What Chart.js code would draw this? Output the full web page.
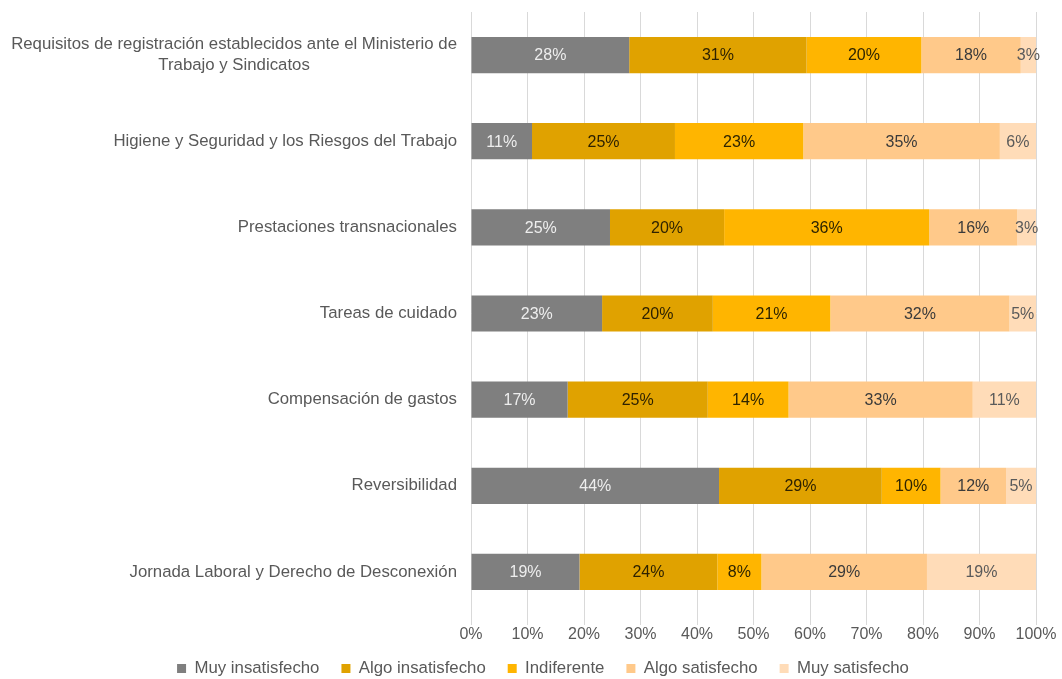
<!DOCTYPE html>
<html>
<head>
<meta charset="utf-8">
<script src="https://cdn.jsdelivr.net/npm/chart.js@4/dist/chart.umd.min.js"></script>
<style>
body{margin:0;background:#fff;}
#wrap{width:1062px;height:679px;}
</style>
</head>
<body>
<div id="wrap"><canvas id="satChart" width="1062" height="679"></canvas></div>
<script>

/* Data */

const categories = [
["Requisitos de registración establecidos ante el Ministerio de", "Trabajo y Sindicatos"],
"Higiene y Seguridad y los Riesgos del Trabajo",
"Prestaciones transnacionales",
"Tareas de cuidado",
"Compensación de gastos",
"Reversibilidad",
"Jornada Laboral y Derecho de Desconexión"
];

const seriesNames = ["Muy insatisfecho", "Algo insatisfecho", "Indiferente", "Algo satisfecho", "Muy satisfecho"];

const muyInsatisfecho  = [28.0, 10.8, 24.6, 23.2, 17.1, 43.9, 19.2];
const algoInsatisfecho = [31.4, 25.3, 20.2, 19.6, 24.8, 28.8, 24.4];
const indiferente      = [20.3, 22.7, 36.3, 20.8, 14.3, 10.4, 7.8];
const algoSatisfecho   = [17.6, 34.8, 15.6, 31.7, 32.6, 11.6, 29.3];
const muySatisfecho    = [2.7, 6.4, 3.3, 4.7, 11.2, 5.3, 19.3];

const xTicks = [0, 10, 20, 30, 40, 50, 60, 70, 80, 90, 100];

const colors = ["#7f7f7f", "#e0a200", "#ffb500", "#ffc98a", "#ffdcb8"];
const labelColors = ["#eeeeee", "#2e2200", "#2e2400", "#3a3a3a", "#5a5a5a"];

const FONT = "'Liberation Sans', Arial, sans-serif";


/* Bar value labels */

const valueLabels = {
id: "valueLabels",
afterDatasetsDraw(chart){
const c = chart.ctx;
c.save();
c.font = "16px " + FONT;
c.textAlign = "center";
c.textBaseline = "middle";
chart.data.datasets.forEach((ds, di) => {
const meta = chart.getDatasetMeta(di);
meta.data.forEach((bar, i) => {
c.fillStyle = labelColors[di];
c.fillText(Math.round(ds.data[i]) + "%", (bar.x + bar.base) / 2, bar.y + 1);
});
});
c.restore();
}
};


/* Category labels (first one is two centered lines) */

const categoryLabels = {
id: "categoryLabels",
afterDraw(chart){
const c = chart.ctx;
const y = chart.scales.y;
const right = chart.chartArea.left - 14;
c.save();
c.font = "16.8px " + FONT;
c.fillStyle = "#595959";
c.textBaseline = "middle";
categories.forEach((cat, i) => {
const py = y.getPixelForTick(i);
if(Array.isArray(cat)){
const w = Math.max(...cat.map(t => c.measureText(t).width));
const mid = right - w / 2;
c.textAlign = "center";
cat.forEach((t, k) => {
c.fillText(t, mid, py + (k - (cat.length - 1) / 2) * 21);
});
}
else{
c.textAlign = "right";
c.fillText(cat, right, py);
}
});
c.restore();
}
};


/* let the x axis labels sit under the legend's top padding */

const axisOverlap = {
id: "axisOverlap",
afterLayout(chart){
chart.scales.x.bottom += 6;
chart.scales.x.height += 6;
}
};


/* Chart Setup */

const ctx = document.getElementById("satChart").getContext("2d");

const seriesData = [muyInsatisfecho, algoInsatisfecho, indiferente, algoSatisfecho, muySatisfecho];

const chart = new Chart(ctx, {
type: "bar",
data: {
labels: categories,
datasets: seriesNames.map((name, i) => ({
label: name,
data: seriesData[i],
backgroundColor: colors[i],
borderWidth: 0,
barPercentage: 0.42,
categoryPercentage: 1
}))
},
options: {
indexAxis: "y",
responsive: false,
animation: false,
layout: { padding: { left: 50, right: 26, top: 12, bottom: -8 } },
scales: {
x: {
stacked: true,
min: 0,
max: 100,
afterBuildTicks: axis => { axis.ticks = xTicks.map(v => ({ value: v })); },
afterFit: scale => { scale.height -= 6; },
ticks: {
callback: v => v + "%",
color: "#595959",
font: { family: FONT, size: 16 },
padding: 0,
maxRotation: 0
},
grid: { color: "#d9d9d9", lineWidth: 1, drawTicks: true, tickLength: 10, tickColor: "#d9d9d9" },
border: { display: false }
},
y: {
stacked: true,
afterFit: scale => { scale.width = 421; },
ticks: { display: false },
grid: { display: false },
border: { display: false }
}
},
plugins: {
legend: {
position: "bottom",
labels: {
boxWidth: 9,
boxHeight: 9,
padding: 22,
color: "#595959",
font: { family: FONT, size: 16.8 }
}
},
tooltip: { enabled: false }
}
},
plugins: [valueLabels, categoryLabels, axisOverlap]
});

</script>
</body>
</html>
